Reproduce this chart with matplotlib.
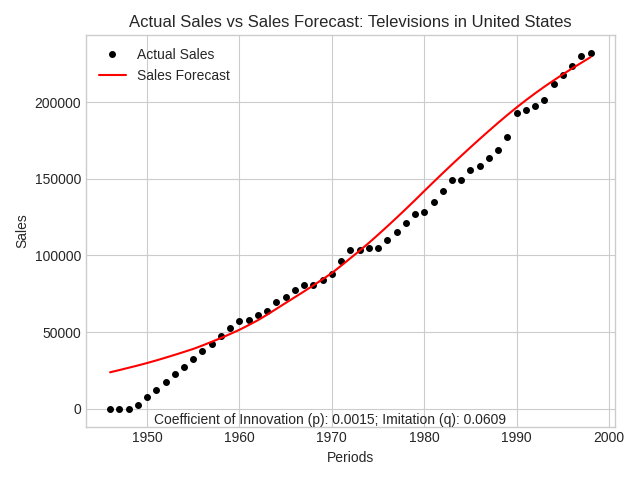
import matplotlib.pyplot as plt

plt.style.use('seaborn-v0_8-whitegrid')
plt.rcParams['font.family'] = ['Liberation Sans', 'DejaVu Sans']

# Years and actual (cumulative) sales
years = list(range(1946, 1999))
actual_sales = [
    0, 0, 0, 2500, 7800, 12400, 17600, 22900, 27500, 32700,
    37900, 42500, 47700, 52900, 57500, 58200, 61400, 64100, 69900, 73200,
    77800, 81000, 81000, 84300, 88200, 96700, 103300, 103900, 104600, 104600,
    109800, 115000, 120900, 126800, 128100, 134600, 141800, 149000, 149000, 155600,
    158200, 163400, 168600, 177100, 192800, 194800, 197400, 201300, 211800, 217600,
    223500, 230100, 232000,
]
# Bass model forecast
forecast = [
    23800, 25250, 26750, 28250, 29850, 31550, 33350, 35200, 37100, 39050,
    41300, 43700, 46200, 48800, 51550, 54600, 57800, 61400, 65200, 69050,
    72800, 76600, 80500, 84500, 88550, 93300, 98200, 103100, 108200, 113550,
    119000, 124600, 130300, 136100, 142050, 147900, 153700, 159400, 165000, 170550,
    176000, 181350, 186600, 191700, 196600, 201300, 205800, 210100, 214200, 218200,
    222000, 225700, 229400,
]
p_coef = 0.0015
q_coef = 0.0609

fig, ax = plt.subplots(figsize=(6.4, 4.8), dpi=100)
ax.plot(years, actual_sales, 'o', color='black', markersize=4, label='Actual Sales')
ax.plot(years, forecast, '-', color='red', linewidth=1.5, label='Sales Forecast')

ax.text(1950.7, -7000, f'Coefficient of Innovation (p): {p_coef}; Imitation (q): {q_coef}',
        ha='left', va='center', fontsize=10)

ax.set_title('Actual Sales vs Sales Forecast: Televisions in United States')
ax.set_xlabel('Periods')
ax.set_ylabel('Sales')
ax.legend(loc='upper left')

plt.tight_layout()
plt.savefig('out.png')
